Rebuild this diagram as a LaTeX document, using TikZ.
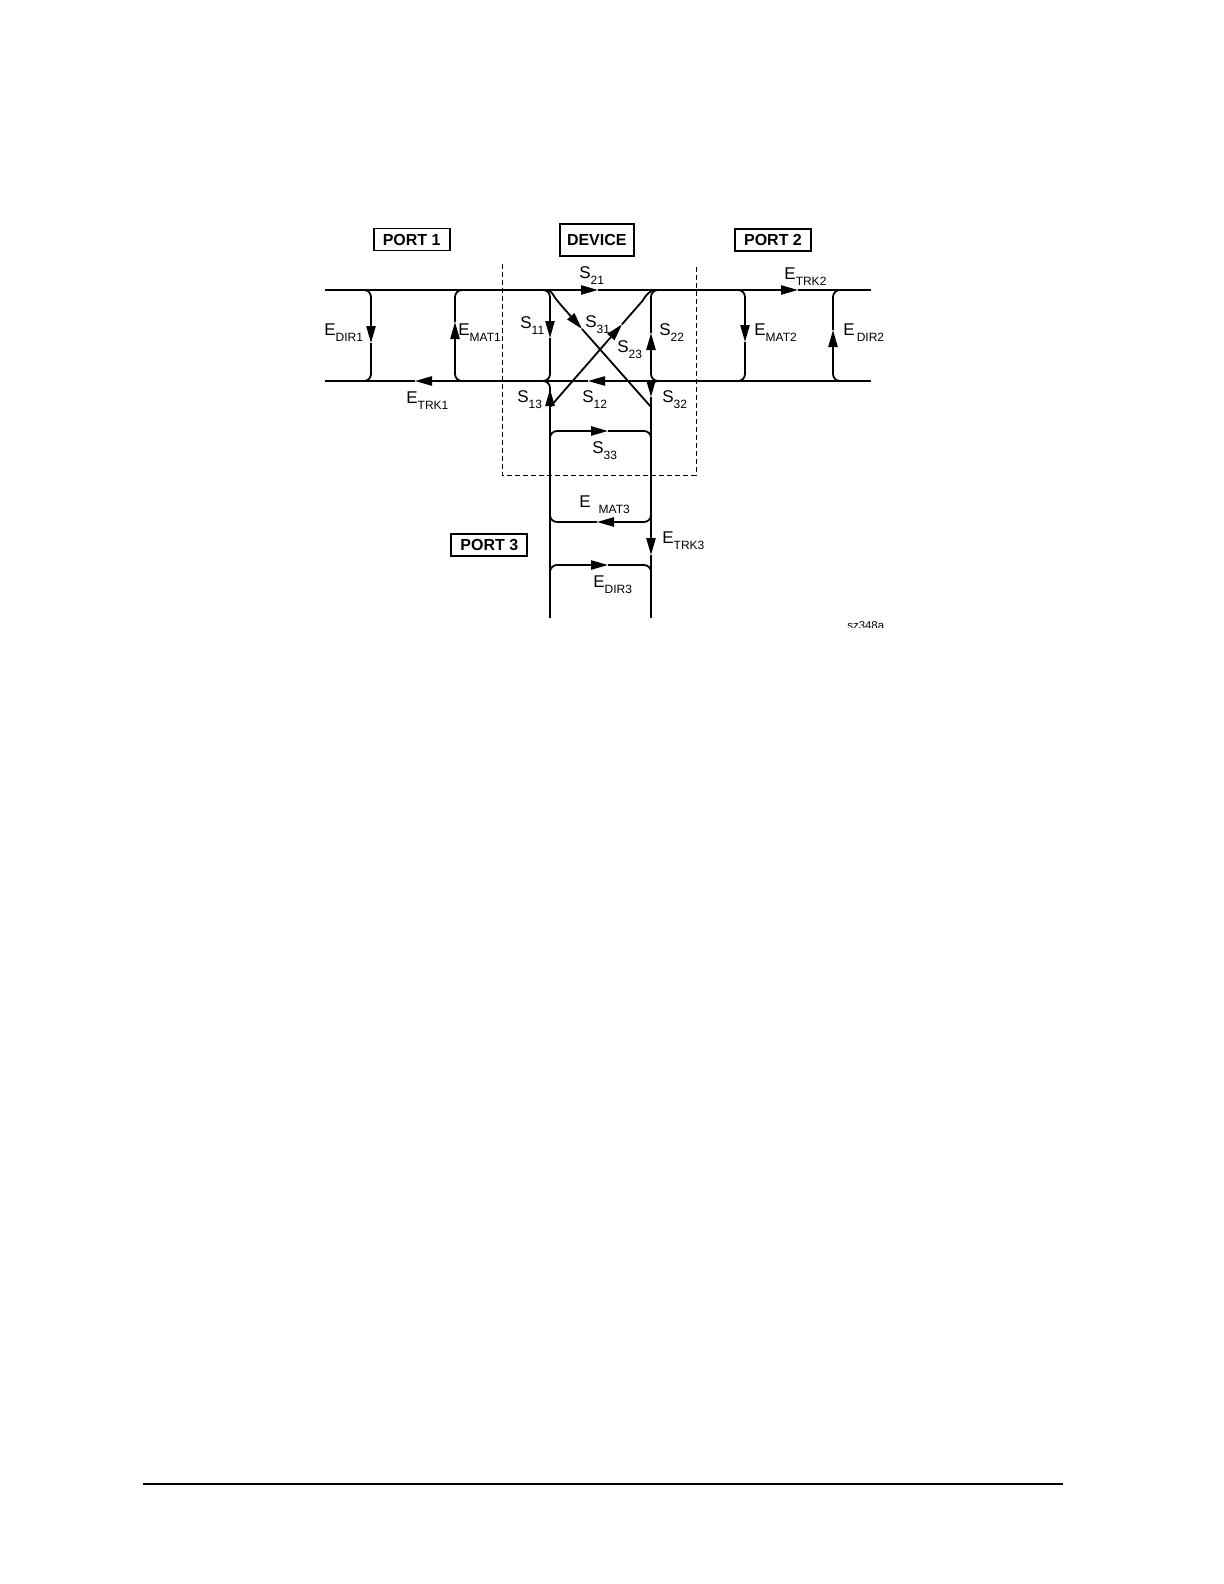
\documentclass[tikz,border=0pt]{standalone}
\usepackage{fontspec}
\setmainfont{Liberation Sans}
\usetikzlibrary{arrows.meta}
\newcommand{\lsub}[1]{\raisebox{-3.2pt}{\fontsize{6}{6}\selectfont #1}}
\tikzset{
    sig/.style={line width=0.9pt, rounded corners=3.5pt},
    arr/.style={sig, -{Triangle[length=8.5pt,width=4.6pt]}},
    lbl/.style={anchor=base west, inner sep=0pt, font=\fontsize{8.5}{10}\selectfont},
    portbox/.style={draw, line width=0.9pt, inner sep=0pt, minimum width=38pt, minimum height=11pt, font=\bfseries\fontsize{8}{10}\selectfont},
    devbox/.style={line width=0.5pt, dash pattern=on 2.5pt off 1.5pt}
}
\begin{document}
\begin{tikzpicture}[x=0.5pt,y=-0.5pt]
    \useasboundingbox (0,0) rectangle (1224,1584);
    \begin{scope}
    \clip (300,200) rectangle (883,627.5);
    \node[portbox] (p1) at (411.7,239.5) {PORT 1};
    \node[portbox,minimum width=37pt,minimum height=16.3pt] (dev) at (596.8,240) {DEVICE};
    \node[portbox] (p2) at (773,240) {PORT 2};
    \node[portbox] (p3) at (489.3,544.7) {PORT 3};
    \coordinate (dvtl) at (502,264); \coordinate (dvbl) at (502,475);
    \coordinate (dvbr) at (696,475); \coordinate (dvtr) at (696,264);
    \draw[devbox] (dvtl) -- (dvbl) -- (dvbr) -- (dvtr);
    \coordinate (tl) at (325,290); \coordinate (tr) at (871,290);
    \coordinate (bl) at (325,381); \coordinate (br) at (871,381);
    \coordinate (t21) at (598,290); \coordinate (tt2) at (798,290);
    \coordinate (t12) at (588,381); \coordinate (tt1) at (415,381);
    \draw[arr] (tl) -- (t21);
    \draw[arr] (t21) -- (tt2);
    \draw[sig] (tt2) -- (tr);
    \draw[arr] (br) -- (t12);
    \draw[arr] (t12) -- (tt1);
    \draw[sig] (tt1) -- (bl);
    \coordinate (d1u) at (371,290); \coordinate (d1) at (371,343); \coordinate (d1l) at (371,381);
    \draw[arr] ([xshift=-6pt]d1u) -- (d1u) -- (d1);
    \draw[sig] (d1) -- (d1l) -- ([xshift=-6pt]d1l);
    \coordinate (m1u) at (455,290); \coordinate (m1) at (455,322); \coordinate (m1l) at (455,381);
    \draw[arr] ([xshift=6pt]m1l) -- (m1l) -- (m1);
    \draw[sig] (m1) -- (m1u) -- ([xshift=6pt]m1u);
    \coordinate (s11u) at (550,290); \coordinate (t11) at (550,338); \coordinate (s11l) at (550,381);
    \draw[arr] ([xshift=-6pt]s11u) -- (s11u) -- (t11);
    \draw[sig] (t11) -- (s11l) -- ([xshift=-6pt]s11l);
    \coordinate (s22u) at (651,290); \coordinate (t22) at (651,333); \coordinate (s22l) at (651,381);
    \draw[arr] ([xshift=6pt]s22l) -- (s22l) -- (t22);
    \draw[sig] (t22) -- (s22u) -- ([xshift=6pt]s22u);
    \coordinate (m2u) at (745,290); \coordinate (m2) at (745,342); \coordinate (m2l) at (745,381);
    \draw[arr] ([xshift=-6pt]m2u) -- (m2u) -- (m2);
    \draw[sig] (m2) -- (m2l) -- ([xshift=-6pt]m2l);
    \coordinate (d2u) at (833,290); \coordinate (d2) at (833,330); \coordinate (d2l) at (833,381);
    \draw[arr] ([xshift=6pt]d2l) -- (d2l) -- (d2);
    \draw[sig] (d2) -- (d2u) -- ([xshift=6pt]d2u);
    \coordinate (lu) at (550,381); \coordinate (t13) at (550,389); \coordinate (ld) at (550,618);
    \draw[sig] ([xshift=-6pt]lu) -- (lu) -- (ld);
    \draw[arr] ([yshift=-9pt]t13) -- (t13);
    \coordinate (ru) at (651,381); \coordinate (t32) at (651,397);
    \coordinate (tt3) at (651,555); \coordinate (rd) at (651,618);
    \draw[arr] ([xshift=6pt]ru) -- (ru) -- (t32);
    \draw[arr] (t32) -- (tt3);
    \draw[sig] (tt3) -- (rd);
    \coordinate (s31a) at (546,290); \coordinate (t31) at (582,329); \coordinate (s31b) at (651,407);
    \draw[arr] (s31a) .. controls (552,290) and (553.5,296) .. (560,304) -- (t31);
    \draw[sig] (t31) -- (s31b);
    \coordinate (s23a) at (550,407); \coordinate (t23) at (622,324.3); \coordinate (s23b) at (656,290);
    \draw[arr] (s23a) -- (t23);
    \draw[sig] (t23) -- (638,306) .. controls (643,300.3) and (648,290) .. (s23b);
    \coordinate (q3l) at (550,431); \coordinate (q3) at (608,431); \coordinate (q3r) at (651,431);
    \draw[arr] ([yshift=-6pt]q3l) -- (q3l) -- (q3);
    \draw[sig] (q3) -- (q3r) -- ([yshift=-6pt]q3r);
    \coordinate (m3r) at (651,522); \coordinate (m3) at (597,522); \coordinate (m3l) at (550,522);
    \draw[arr] ([yshift=6pt]m3r) -- (m3r) -- (m3);
    \draw[sig] (m3) -- (m3l) -- ([yshift=6pt]m3l);
    \coordinate (d3l) at (550,565); \coordinate (d3) at (608,565); \coordinate (d3r) at (651,565);
    \draw[arr] ([yshift=-6pt]d3l) -- (d3l) -- (d3);
    \draw[sig] (d3) -- (d3r) -- ([yshift=-6pt]d3r);
    \node[lbl] (ldir1) at (324,335) {E\lsub{DIR1}};
    \node[lbl] (lmat1) at (458,335) {E\lsub{MAT1}};
    \node[lbl] (ltrk1) at (406,403) {E\lsub{TRK1}};
    \node[lbl] (l11) at (520,328) {S\lsub{11}};
    \node[lbl] (l13) at (517,402) {S\lsub{13}};
    \node[lbl] (l21) at (579,278) {S\lsub{21}};
    \node[lbl] (l31) at (585,327) {S\lsub{31}};
    \node[lbl] (l23) at (617,352) {S\lsub{23}};
    \node[lbl] (l22) at (659,335) {S\lsub{22}};
    \node[lbl] (l12) at (582,402) {S\lsub{12}};
    \node[lbl] (l32) at (662,402) {S\lsub{32}};
    \node[lbl] (ltrk2) at (784,279) {E\lsub{TRK2}};
    \node[lbl] (lmat2) at (754,335) {E\lsub{MAT2}};
    \node[lbl] (ldir2) at (843,335) {E\hspace{1pt}\lsub{DIR2}};
    \node[lbl] (l33) at (592,453) {S\lsub{33}};
    \node[lbl] (lmat3) at (579,507) {E\hspace{4pt}\lsub{MAT3}};
    \node[lbl] (ltrk3) at (662,543) {E\lsub{TRK3}};
    \node[lbl] (ldir3) at (593,587) {E\lsub{DIR3}};
    \node[lbl,font=\fontsize{5.7}{6}\selectfont] (code) at (847,629.5) {sz348a};
    \end{scope}
    \coordinate (rl) at (143,1484); \coordinate (rr) at (1063,1484);
    \draw[line width=1.2pt] (rl) -- (rr);
\end{tikzpicture}
\end{document}
